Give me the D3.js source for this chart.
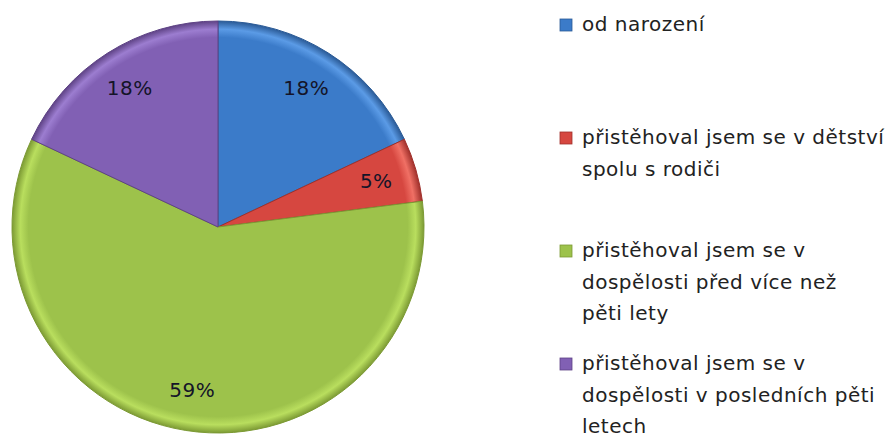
<!doctype html>
<html>

<head>
    <style>
        body { margin: 0; background: #fff; }
        text { font-family: "DejaVu Sans", sans-serif; }
    </style>
    <script src="https://d3js.org/d3.v7.min.js"></script>
</head>

<body>
    <svg width="890" height="434"></svg>
    <script>
        var categories = ["od narození",
            "přistěhoval jsem se v dětství spolu s rodiči",
            "přistěhoval jsem se v dospělosti před více než pěti lety",
            "přistěhoval jsem se v dospělosti v posledních pěti letech"]
        var legendLines = [["od narození"],
            ["přistěhoval jsem se v dětství", "spolu s rodiči"],
            ["přistěhoval jsem se v", "dospělosti před více než", "pěti lety"],
            ["přistěhoval jsem se v", "dospělosti v posledních pěti", "letech"]]
        var values = [18, 5, 59, 18]
        var colors = ["#3b7bc9", "#d64740", "#9dc24b", "#8160b4"]
        var lightColors = ["#5b9be6", "#f07065", "#b9de5e", "#9c7dd0"]
        var darkColors = ["#2a5a96", "#a0302b", "#7c9a34", "#5e4285"]

        var svg = d3.select("svg"),
            cx = 218, cy = 227, radius = 206

        var defs = svg.append("defs")
        colors.forEach(function (c, i) {
            var grad = defs.append("radialGradient")
                .attr("id", "grad" + i)
                .attr("gradientUnits", "userSpaceOnUse")
                .attr("cx", 0).attr("cy", 0).attr("r", radius)
            grad.append("stop").attr("offset", "0%").attr("stop-color", c)
            grad.append("stop").attr("offset", "92%").attr("stop-color", c)
            grad.append("stop").attr("offset", "96%").attr("stop-color", lightColors[i])
            grad.append("stop").attr("offset", "100%").attr("stop-color", darkColors[i])
        })

        var pie = d3.pie().sort(null).value(function (d) { return d; })
        var arc = d3.arc().innerRadius(0).outerRadius(radius)
        var labelArc = d3.arc().innerRadius(radius * 0.8).outerRadius(radius * 0.8)

        var g = svg.append("g")
            .attr("transform", "translate(" + cx + "," + cy + ")")

        var arcs = pie(values)

        g.selectAll(".slice")
            .data(arcs)
            .enter().append("path")
            .attr("class", "slice")
            .attr("d", arc)
            .attr("fill", function (d, i) { return "url(#grad" + i + ")"; })
            .attr("stroke", function (d, i) { return darkColors[i]; })
            .attr("stroke-width", 1)

        g.selectAll(".label")
            .data(arcs)
            .enter().append("text")
            .attr("class", "label")
            .attr("transform", function (d) { return "translate(" + labelArc.centroid(d) + ")"; })
            .attr("text-anchor", "middle")
            .attr("dy", "0.35em")
            .style("font-size", "20px")
            .style("letter-spacing", "0.5px")
            .style("fill", "#141428")
            .text(function (d) { return d.data + "%"; })

        // Legend
        var legendY = d3.scalePoint().domain(categories).range([31, 370])

        var legend = svg.append("g")
            .selectAll("g")
            .data(categories)
            .enter().append("g")
            .attr("transform", function (d) { return "translate(560," + legendY(d) + ")"; })

        legend.append("rect")
            .attr("x", 0)
            .attr("y", -12)
            .attr("width", 12)
            .attr("height", 12)
            .attr("fill", function (d, i) { return colors[i]; })
            .attr("stroke", function (d, i) { return darkColors[i]; })
            .attr("stroke-width", 0.8)

        legend.append("text")
            .attr("x", 22)
            .style("font-size", "20px")
            .style("letter-spacing", "0.5px")
            .style("fill", "#222")
            .selectAll("tspan")
            .data(function (d, i) { return legendLines[i]; })
            .enter().append("tspan")
            .attr("x", 22)
            .attr("y", function (d, j) { return j * 31.5; })
            .text(function (d) { return d; })
    </script>
</body>

</html>
